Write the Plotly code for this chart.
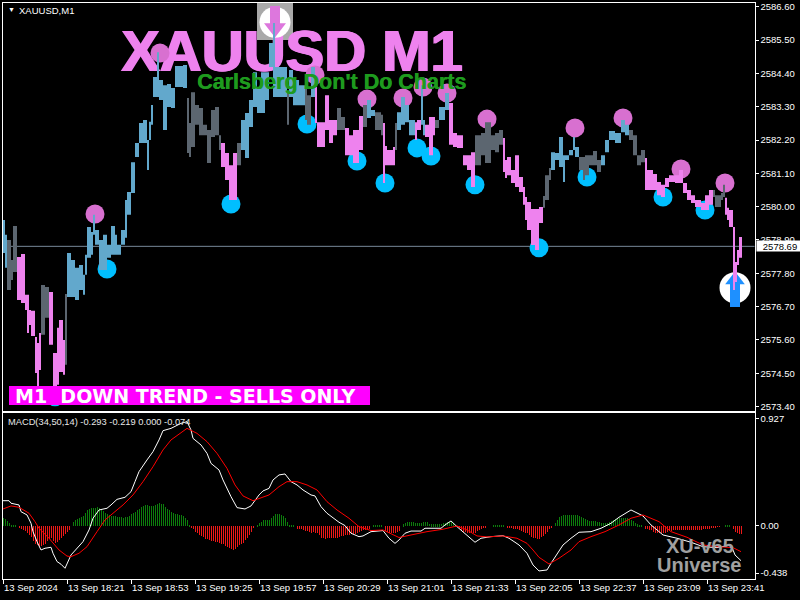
import numpy as np
import plotly.graph_objects as go

# price panel, one block per group of one minute bars
bar_minute = [
    0, 1, 2, 4, 5, 7, 9, 11, 12, 13,
    14, 16, 17, 18, 19, 21, 23, 25, 27, 28,
    30, 31, 32, 34, 36, 38, 40, 41, 42, 44,
    45, 46, 48, 50, 52, 54, 56, 57, 59, 61,
    62, 64, 66, 68, 70, 72, 73, 74, 75, 77, 78,
    80, 82, 84, 86, 90, 92, 93, 94, 96, 98,
    100, 102, 104, 106, 108, 109, 111, 113, 115, 117,
    119, 121, 123, 125, 127, 129, 131, 133, 135, 136,
    139, 142, 143, 145, 148, 151, 152, 154, 156, 157,
    159, 161, 163, 165, 167, 169, 171, 173, 175, 178,
    180, 182, 184, 186, 189, 190, 191, 192, 195, 196, 197,
    199, 201, 203, 206, 207, 209, 210, 211, 213, 215, 216,
    218, 221, 223, 225, 227, 230, 232, 234, 236, 239,
    241, 244, 246, 248, 250, 251, 252, 254, 256, 258,
    260, 261, 262, 264, 266, 268, 270, 271, 273, 274,
    276, 278, 280, 281, 283, 285, 286, 288, 290, 291,
    293, 295, 297, 299, 301, 303, 306, 309, 311, 313,
    315, 317, 319, 321, 322, 325, 327, 329, 331, 333,
    336, 338, 340, 342, 344, 346, 349, 351, 353, 355,
    356, 359, 360, 361, 362, 363, 365, 366, 367, 368,
]
bar_high = [
    2579.56, 2579.07, 2578.90, 2578.24, 2579.36, 2578.34, 2578.44, 2577.09, 2577.09, 2576.59,
    2576.56, 2575.70, 2575.50, 2575.83, 2577.41, 2577.35, 2577.18, 2575.17, 2576.00, 2576.26,
    2575.60, 2577.12, 2578.47, 2578.24, 2577.98, 2578.07, 2577.75, 2578.41, 2579.33, 2579.16,
    2579.73, 2579.23, 2578.90, 2579.07, 2578.74, 2579.36, 2579.07, 2578.74, 2579.23, 2580.22,
    2580.48, 2581.47, 2582.10, 2582.76, 2582.86, 2582.20, 2582.80, 2583.36, 2584.28, 2585.10, 2584.18,
    2584.01, 2584.05, 2583.92, 2584.64, 2584.68, 2583.59, 2582.76, 2583.78, 2583.36, 2583.26,
    2582.70, 2582.53, 2583.19, 2583.29, 2582.36, 2582.10, 2581.77, 2581.37, 2581.77, 2582.10,
    2582.86, 2583.09, 2583.52, 2584.44, 2583.95, 2584.44, 2584.44, 2585.40, 2586.06, 2584.61,
    2584.61, 2583.75, 2584.51, 2584.18, 2584.01, 2584.18, 2583.68, 2584.61, 2583.95, 2582.79,
    2582.79, 2583.68, 2582.86, 2582.86, 2583.26, 2582.96, 2582.60, 2582.36, 2582.53, 2582.99,
    2583.36, 2583.52, 2583.19, 2583.12, 2583.03, 2582.76, 2582.00, 2581.87, 2581.97, 2582.76, 2583.12,
    2583.62, 2583.36, 2582.86, 2582.79, 2582.86, 2584.01, 2582.86, 2582.70, 2582.96, 2582.96, 2582.86,
    2583.29, 2583.75, 2583.42, 2582.43, 2582.36, 2581.70, 2581.70, 2581.80, 2582.36, 2582.43,
    2582.79, 2582.36, 2582.43, 2582.53, 2582.27, 2581.54, 2581.64, 2581.21, 2581.70, 2580.98,
    2580.65, 2580.32, 2580.15, 2579.92, 2579.92, 2579.99, 2580.35, 2581.04, 2581.28, 2581.80,
    2581.77, 2582.30, 2581.70, 2581.70, 2581.87, 2582.30, 2581.97, 2581.64, 2581.64, 2581.70,
    2581.70, 2581.84, 2581.54, 2581.70, 2582.20, 2582.50, 2582.43, 2582.86, 2582.70, 2582.53,
    2582.36, 2581.70, 2581.87, 2581.61, 2581.21, 2581.08, 2580.81, 2580.72, 2580.95, 2581.04,
    2581.04, 2581.21, 2580.78, 2580.55, 2580.38, 2580.22, 2580.12, 2580.38, 2580.55, 2580.55,
    2580.38, 2580.45, 2580.72, 2580.29, 2579.96, 2579.89, 2579.33, 2578.17, 2578.57, 2579.00,
]
bar_low = [
    2578.47, 2577.98, 2577.25, 2577.58, 2577.84, 2576.92, 2576.82, 2576.59, 2575.83, 2576.09,
    2575.73, 2574.51, 2574.08, 2574.61, 2575.77, 2576.33, 2575.44, 2574.08, 2574.12, 2574.54,
    2574.45, 2574.78, 2577.02, 2577.02, 2576.92, 2577.25, 2577.09, 2577.75, 2578.31, 2578.41,
    2579.07, 2578.74, 2577.91, 2577.91, 2578.31, 2578.41, 2578.41, 2578.41, 2578.74, 2578.97,
    2579.73, 2580.45, 2581.64, 2582.10, 2582.10, 2581.21, 2582.20, 2582.70, 2583.62, 2583.62, 2583.52,
    2582.53, 2583.29, 2583.26, 2583.95, 2583.92, 2581.77, 2581.64, 2581.97, 2582.70, 2582.36,
    2582.36, 2581.44, 2582.30, 2582.36, 2581.87, 2581.31, 2580.88, 2580.22, 2580.22, 2581.37,
    2581.87, 2581.61, 2582.63, 2583.29, 2583.09, 2583.09, 2583.52, 2584.61, 2583.62, 2583.62,
    2583.62, 2582.70, 2583.62, 2583.35, 2583.35, 2582.86, 2582.70, 2583.62, 2582.76, 2581.97,
    2581.97, 2582.53, 2582.10, 2582.36, 2582.53, 2582.53, 2581.70, 2581.70, 2581.44, 2581.87,
    2582.63, 2582.93, 2582.99, 2582.53, 2582.36, 2580.78, 2581.37, 2581.37, 2581.37, 2581.87, 2582.53,
    2582.70, 2582.79, 2582.36, 2582.20, 2582.53, 2582.70, 2582.36, 2582.30, 2581.70, 2582.36, 2582.60,
    2582.86, 2583.19, 2582.04, 2581.97, 2581.94, 2581.37, 2581.21, 2580.65, 2581.37, 2581.70,
    2581.44, 2581.87, 2581.80, 2582.04, 2581.14, 2580.95, 2581.04, 2580.78, 2580.65, 2580.48,
    2580.06, 2579.56, 2579.23, 2578.73, 2578.57, 2579.46, 2579.96, 2580.22, 2580.88, 2581.21,
    2581.54, 2581.31, 2580.81, 2581.54, 2581.70, 2581.87, 2581.64, 2581.21, 2580.88, 2581.04,
    2581.37, 2581.37, 2581.14, 2581.37, 2581.80, 2582.20, 2582.10, 2582.46, 2582.36, 2582.20,
    2581.70, 2581.37, 2581.47, 2580.55, 2580.55, 2580.55, 2580.38, 2580.32, 2580.65, 2580.81,
    2580.78, 2580.78, 2580.45, 2580.22, 2580.12, 2579.99, 2579.89, 2579.89, 2580.06, 2580.32,
    2579.99, 2580.22, 2580.32, 2579.73, 2579.56, 2579.33, 2577.25, 2577.51, 2578.07, 2578.31,
]
# heiken style colouring, minute where each run begins
trend_start = [0, 2, 7, 19, 23, 31, 32, 92, 109, 117, 119, 142, 143, 151, 154, 156, 167, 171, 180, 182,
               186, 190, 196, 197, 206, 209, 211, 216, 218, 223, 236, 250, 270, 274, 288, 299, 313, 321, 355, 361]
trend_name = ["up", "flat", "down", "flat", "down", "flat", "up", "flat", "down", "flat", "up", "flat", "up", "flat", "up", "down", "flat", "down", "flat", "up",
              "flat", "down", "flat", "up", "down", "up", "down", "flat", "up", "down", "flat", "down", "flat", "up", "flat", "up", "flat", "down", "flat", "down"]

last_price = 2578.69

sell_minute = [46, 78.5, 156, 182, 200, 210, 222, 242, 286, 310, 339, 361]
sell_price = [2579.76, 2585.07, 2584.35, 2583.55, 2583.59, 2583.95, 2583.75, 2582.89, 2582.60, 2582.93, 2581.24, 2580.78]
buy_minute = [26, 52, 114, 152, 177, 191, 207, 214, 236, 268, 292, 330, 351]
buy_price = [2573.72, 2577.94, 2580.09, 2582.73, 2581.51, 2580.78, 2581.94, 2581.67, 2580.72, 2578.64, 2580.98, 2580.32, 2579.89]

# macd panel
main_minute = [
    0, 3, 4, 8, 9, 12, 14, 15, 17, 19, 21, 24, 25, 27, 29, 31, 34, 38, 40, 43,
    45, 48, 52, 54, 57, 61, 64, 66, 68, 72, 75, 78, 80, 84, 89, 92, 94, 95, 99, 102,
    104, 108, 110, 114, 117, 121, 124, 128, 130, 133, 135, 138, 141, 144, 147, 150, 154, 156, 159, 162,
    165, 168, 171, 174, 178, 180, 184, 190, 193, 196, 198, 201, 204, 209, 211, 219, 221, 224, 227, 230,
    234, 236, 239, 244, 250, 253, 256, 258, 262, 265, 268, 272, 274, 278, 280, 284, 288, 294, 299, 304,
    308, 314, 320, 324, 330, 337, 344, 350, 357, 364, 366, 369,
]
main_value = [
    0.204, 0.204, 0.183, 0.169, 0.114, 0.087, 0.019, -0.050, -0.132, -0.200, -0.186, -0.178, -0.227, -0.295, -0.317, -0.350, -0.241, -0.173, -0.132, -0.036,
    0.060, 0.128, 0.142, 0.169, 0.215, 0.232, 0.278, 0.360, 0.442, 0.538, 0.606, 0.702, 0.778, 0.797, 0.838, 0.852, 0.784, 0.715, 0.661, 0.592,
    0.510, 0.456, 0.374, 0.237, 0.147, 0.136, 0.161, 0.251, 0.284, 0.305, 0.374, 0.415, 0.423, 0.360, 0.333, 0.292, 0.251, 0.243, 0.155, 0.101,
    0.060, 0.027, 0.000, -0.063, -0.091, -0.085, -0.050, -0.041, -0.104, -0.146, -0.118, -0.063, -0.045, -0.045, -0.022, -0.022, 0.005, 0.038, -0.009, -0.050,
    -0.104, -0.137, -0.104, -0.091, -0.083, -0.104, -0.137, -0.159, -0.227, -0.323, -0.372, -0.364, -0.309, -0.214, -0.159, -0.104, -0.055, -0.050, -0.022, 0.019,
    0.068, 0.128, 0.079, 0.005, -0.077, -0.104, -0.137, -0.173, -0.181, -0.159, -0.241, -0.288,
]
signal_minute = [
    0, 4, 8, 13, 16, 18, 23, 28, 32, 34, 38, 42, 47, 51, 55, 60, 65, 70, 75, 80,
    84, 89, 92, 97, 102, 107, 112, 116, 120, 125, 130, 133, 138, 142, 147, 152, 157, 162, 167, 173,
    178, 184, 190, 198, 204, 212, 220, 227, 232, 237, 242, 250, 257, 262, 265, 268, 273, 278, 284, 288,
    294, 301, 308, 314, 320, 328, 334, 342, 350, 357, 365, 369,
]
signal_value = [
    0.136, 0.161, 0.150, 0.101, 0.032, -0.022, -0.104, -0.200, -0.250, -0.255, -0.227, -0.173, -0.050, 0.046, 0.101, 0.169, 0.251, 0.360, 0.483, 0.620,
    0.702, 0.762, 0.797, 0.756, 0.688, 0.592, 0.469, 0.333, 0.243, 0.204, 0.237, 0.251, 0.319, 0.360, 0.360, 0.333, 0.292, 0.196, 0.128, 0.060,
    -0.009, -0.041, -0.036, -0.098, -0.077, -0.050, -0.030, -0.003, -0.036, -0.085, -0.093, -0.085, -0.104, -0.146, -0.200, -0.260, -0.315, -0.268, -0.200, -0.132,
    -0.091, -0.050, 0.005, 0.060, 0.087, 0.032, -0.050, -0.096, -0.159, -0.173, -0.181, -0.214,
]
# histogram per minute, read in steps of 0.00273
hist_steps = [
    25, 22, 15, 8, 4, 2, 1, 0, -6, -8, -12, -15, -20, -28, -33, -45, -55, -58, -60, -60,
    -58, -55, -45, -38, -35, -45, -50, -47, -43, -37, -30, -25, -18, -12, 0, 12, 18, 22, 25, 27,
    30, 40, 47, 50, 53, 55, 55, 56, 55, 50, 45, 40, 37, 33, 31, 30, 29, 28, 27, 26,
    25, 26, 28, 30, 35, 38, 43, 48, 52, 56, 60, 62, 62, 60, 60, 60, 62, 66, 68, 67,
    65, 58, 52, 48, 43, 40, 37, 35, 34, 32, 30, 25, 18, 2, -4, -10, -17, -20, -26, -30,
    -34, -38, -40, -43, -44, -45, -47, -48, -50, -53, -55, -60, -63, -66, -70, -72, -68, -62, -58, -55,
    -50, -43, -37, -28, -18, -6, 0, 2, 8, 12, 18, 19, 18, 18, 25, 30, 37, 36, 35, 33,
    30, 25, 12, 4, 2, 1, 0, -8, -9, -10, -12, -14, -15, -18, -20, -18, -20, -22, -28, -36,
    -37, -38, -37, -35, -35, -36, -35, -35, -33, -30, -30, -28, -28, -27, -25, -25, -23, -22, -18, -15,
    -13, -12, -10, -10, 0, 3, 3, 3, 3, 3, 0, -15, -18, -20, -21, -22, -22, -18, -14, 0,
    5, 8, 12, 12, 12, 11, 10, 8, 8, 8, 12, 12, 11, 7, 5, 5, 5, 5, 6, 7,
    10, 10, 12, 13, 12, 10, 4, -2, -5, -12, -18, -19, -20, -20, -21, -22, -20, -15, -12, -8,
    -5, -3, 0, 0, 0, 2, 2, 2, 2, 2, 2, 0, -3, -5, -7, -9, -10, -10, -12, -15,
    -17, -20, -22, -28, -33, -36, -37, -38, -38, -33, -30, -25, -17, -10, -4, 0, 8, 18, 26, 31,
    33, 33, 33, 33, 33, 33, 33, 33, 31, 28, 23, 20, 17, 15, 15, 15, 15, 13, 11, 10,
    8, 8, 9, 11, 14, 18, 22, 24, 25, 25, 25, 25, 23, 21, 18, 14, 10, 6, 3, 1,
    0, -8, -9, -11, -13, -17, -20, -21, -22, -22, -22, -22, -18, -16, -14, -13, -12, -12, -12, -12,
    -12, -12, -12, -12, -12, -12, -12, -12, -12, -11, -10, -10, -9, -8, -7, -5, -3, -2, -2, 0,
    0, 2, 2, 2, 0, -10, -18, -22, -24, -25,
]

price_ticks = [2586.6, 2585.5, 2584.4, 2583.3, 2582.2, 2581.1, 2580.0, 2578.9, 2577.8, 2576.7, 2575.6, 2574.5, 2573.4]
time_ticks = list(range(0, 353, 32))
time_labels = ["13 Sep 2024", "13 Sep 18:21", "13 Sep 18:53", "13 Sep 19:25", "13 Sep 19:57", "13 Sep 20:29",
               "13 Sep 21:01", "13 Sep 21:33", "13 Sep 22:05", "13 Sep 22:37", "13 Sep 23:09", "13 Sep 23:41"]

trend_colors = {"up": "#62A8CC", "flat": "#5C6670", "down": "#EE82EE"}
FONT = "Liberation Sans"
X_RANGE = [-0.25, 375.75]


def px_x(px):
    return px / 800


def px_y(px):
    return 1 - px / 600


def trend_at(minute):
    return trend_name[np.searchsorted(trend_start, minute, side="right") - 1]


fig = go.Figure()

# big title goes under the signal dots
fig.add_trace(go.Scatter(x=[144.5], y=[2584.95], mode="text", text=["XAUUSD M1"], showlegend=False,
                         textfont=dict(family=FONT, size=58, color="#EE82EE", weight="bold",
                                       shadow="1px 0 0 #EE82EE, -1px 0 0 #EE82EE"),
                         textposition="middle center", hoverinfo="skip"))
fig.add_trace(go.Scatter(x=sell_minute, y=sell_price, mode="markers", showlegend=False,
                         marker=dict(size=19, color="#D870D0")))
fig.add_trace(go.Scatter(x=buy_minute, y=buy_price, mode="markers", showlegend=False,
                         marker=dict(size=19, color="#00BFFF")))

# the two big arrows: white disc, shaft, head
fig.add_trace(go.Scatter(x=[136, 366], y=[2586.09, 2577.32], mode="markers", showlegend=False,
                         marker=dict(size=31, color="white")))
fig.add_trace(go.Scatter(x=[136], y=[2586.28], mode="markers", showlegend=False,
                         marker=dict(symbol="line-ns", size=15, line=dict(width=10, color="#DD77DD"))))
fig.add_trace(go.Scatter(x=[136], y=[2585.90], mode="markers", showlegend=False,
                         marker=dict(symbol="triangle-down", size=19, color="#DD77DD")))
fig.add_trace(go.Scatter(x=[366], y=[2577.15], mode="markers", showlegend=False,
                         marker=dict(symbol="line-ns", size=20, line=dict(width=10, color="#1E90FF"))))
fig.add_trace(go.Scatter(x=[366], y=[2577.58], mode="markers", showlegend=False,
                         marker=dict(symbol="triangle-up", size=17, color="#1E90FF")))

# bars as filled blocks so they sit over the dots
widths = np.append(np.diff(bar_minute), 1.5)
for name, color in trend_colors.items():
    xs, ys = [], []
    for m, w, hi, lo in zip(bar_minute, widths, bar_high, bar_low):
        if trend_at(m) == name:
            xs += [m, m + w, m + w, m, m, None]
            ys += [lo, lo, hi, hi, lo, None]
    fig.add_trace(go.Scatter(x=xs, y=ys, mode="lines", fill="toself", fillcolor=color,
                             line=dict(width=0, color=color), showlegend=False, hoverinfo="skip"))

# macd panel
hist_values = np.array(hist_steps) * 0.00273
fig.add_trace(go.Bar(x=np.arange(len(hist_values)), y=hist_values, width=0.5, xaxis="x2", yaxis="y2",
                     marker=dict(color=["#0C7F0C" if v >= 0 else "#F01818" for v in hist_values], line=dict(width=0), opacity=0.99),
                     showlegend=False))
fig.add_trace(go.Scatter(x=main_minute, y=main_value, mode="lines", xaxis="x2", yaxis="y2", showlegend=False,
                         line=dict(color="white", width=1)))
fig.add_trace(go.Scatter(x=signal_minute, y=signal_value, mode="lines", xaxis="x2", yaxis="y2", showlegend=False,
                         line=dict(color="#FF0000", width=1)))

axis_style = dict(showgrid=False, zeroline=False, showline=True, linecolor="white", linewidth=1, mirror=True, automargin=False,
                  ticks="outside", tickcolor="white", color="white", tickangle=0, tickfont=dict(family=FONT, size=9.5, color="white"))

fig.update_layout(
    width=800, height=600,
    margin=dict(l=0, r=0, t=0, b=0),
    paper_bgcolor="black", plot_bgcolor="black",
    showlegend=False, bargap=0,
    xaxis=dict(axis_style, domain=[px_x(2.5), px_x(754.5)], range=X_RANGE, showticklabels=False,
               tickvals=time_ticks, ticklen=0, anchor="y"),
    yaxis=dict(axis_style, domain=[px_y(410.5), px_y(2.5)], range=[2573.27, 2586.74], side="right",
               tickvals=price_ticks, ticktext=[f"{p:.2f}" for p in price_ticks], ticklen=3, anchor="x"),
    xaxis2=dict(axis_style, domain=[px_x(2.5), px_x(754.5)], range=X_RANGE, tickvals=time_ticks, ticktext=time_labels,
                ticklen=4, ticklabelposition="outside right", anchor="y2", matches="x"),
    yaxis2=dict(axis_style, domain=[px_y(579), px_y(412.5)], range=[-0.438, 0.927], side="right", ticklen=3, anchor="x2",
                tickvals=[0.874, 0.0, -0.389], ticktext=["0.927", "0.00", "-0.438"]),
)

# current price line, grey box behind the top arrow, banner box over the bars
fig.add_shape(type="line", xref="paper", yref="y", x0=px_x(2.5), x1=px_x(754.5), y0=last_price, y1=last_price,
              line=dict(color="#778899", width=1), layer="below")
fig.add_shape(type="rect", xref="paper", yref="paper", x0=px_x(257), x1=px_x(293), y0=px_y(2.5), y1=px_y(40),
              fillcolor="#A9A9A9", line=dict(width=0), layer="below")
fig.add_shape(type="rect", xref="paper", yref="paper", x0=px_x(9), x1=px_x(370), y0=px_y(405), y1=px_y(386),
              fillcolor="#FF00FF", line=dict(width=0), layer="above")


def label(text, x, y, size, color, weight="normal", xanchor="left", family=FONT, shadow=None, **kw):
    fig.add_annotation(text=text, xref="paper", yref="paper", x=px_x(x), y=px_y(y), xanchor=xanchor, yanchor="middle",
                       showarrow=False, font=dict(family=family, size=size, color=color, weight=weight, shadow=shadow), **kw)


label("\u25BC", 6, 9, 7, "white")
label("XAUUSD,M1", 17, 10, 9.5, "white")
label("Carlsberg Don't Do Charts", 331.5, 81.5, 21.5, "#1E9A1E", "bold", xanchor="center",
      shadow="0.5px 0 0 #1E9A1E")
label("M1  DOWN TREND - SELLS ONLY", 13, 395.5, 19, "white", "bold", family="DejaVu Sans")
label("MACD(34,50,14) -0.293 -0.219 0.000 -0.074", 6, 421.5, 9.3, "#E8E8E8")
label("XU-v65", 699.5, 546, 20, "#A0A0A0", "bold", xanchor="center")
label("Universe", 699, 565, 20, "#A0A0A0", "bold", xanchor="center")
fig.add_annotation(text="2578.69", xref="paper", yref="y", x=px_x(756), y=last_price, xanchor="left", yanchor="middle",
                   showarrow=False, font=dict(family=FONT, size=9.5, color="black"), bgcolor="white",
                   width=46, height=10, align="center", borderpad=0)

fig.write_html("out.html", config=dict(displayModeBar=False),
               post_script="document.body.style.margin='0';document.body.style.overflow='hidden';")
